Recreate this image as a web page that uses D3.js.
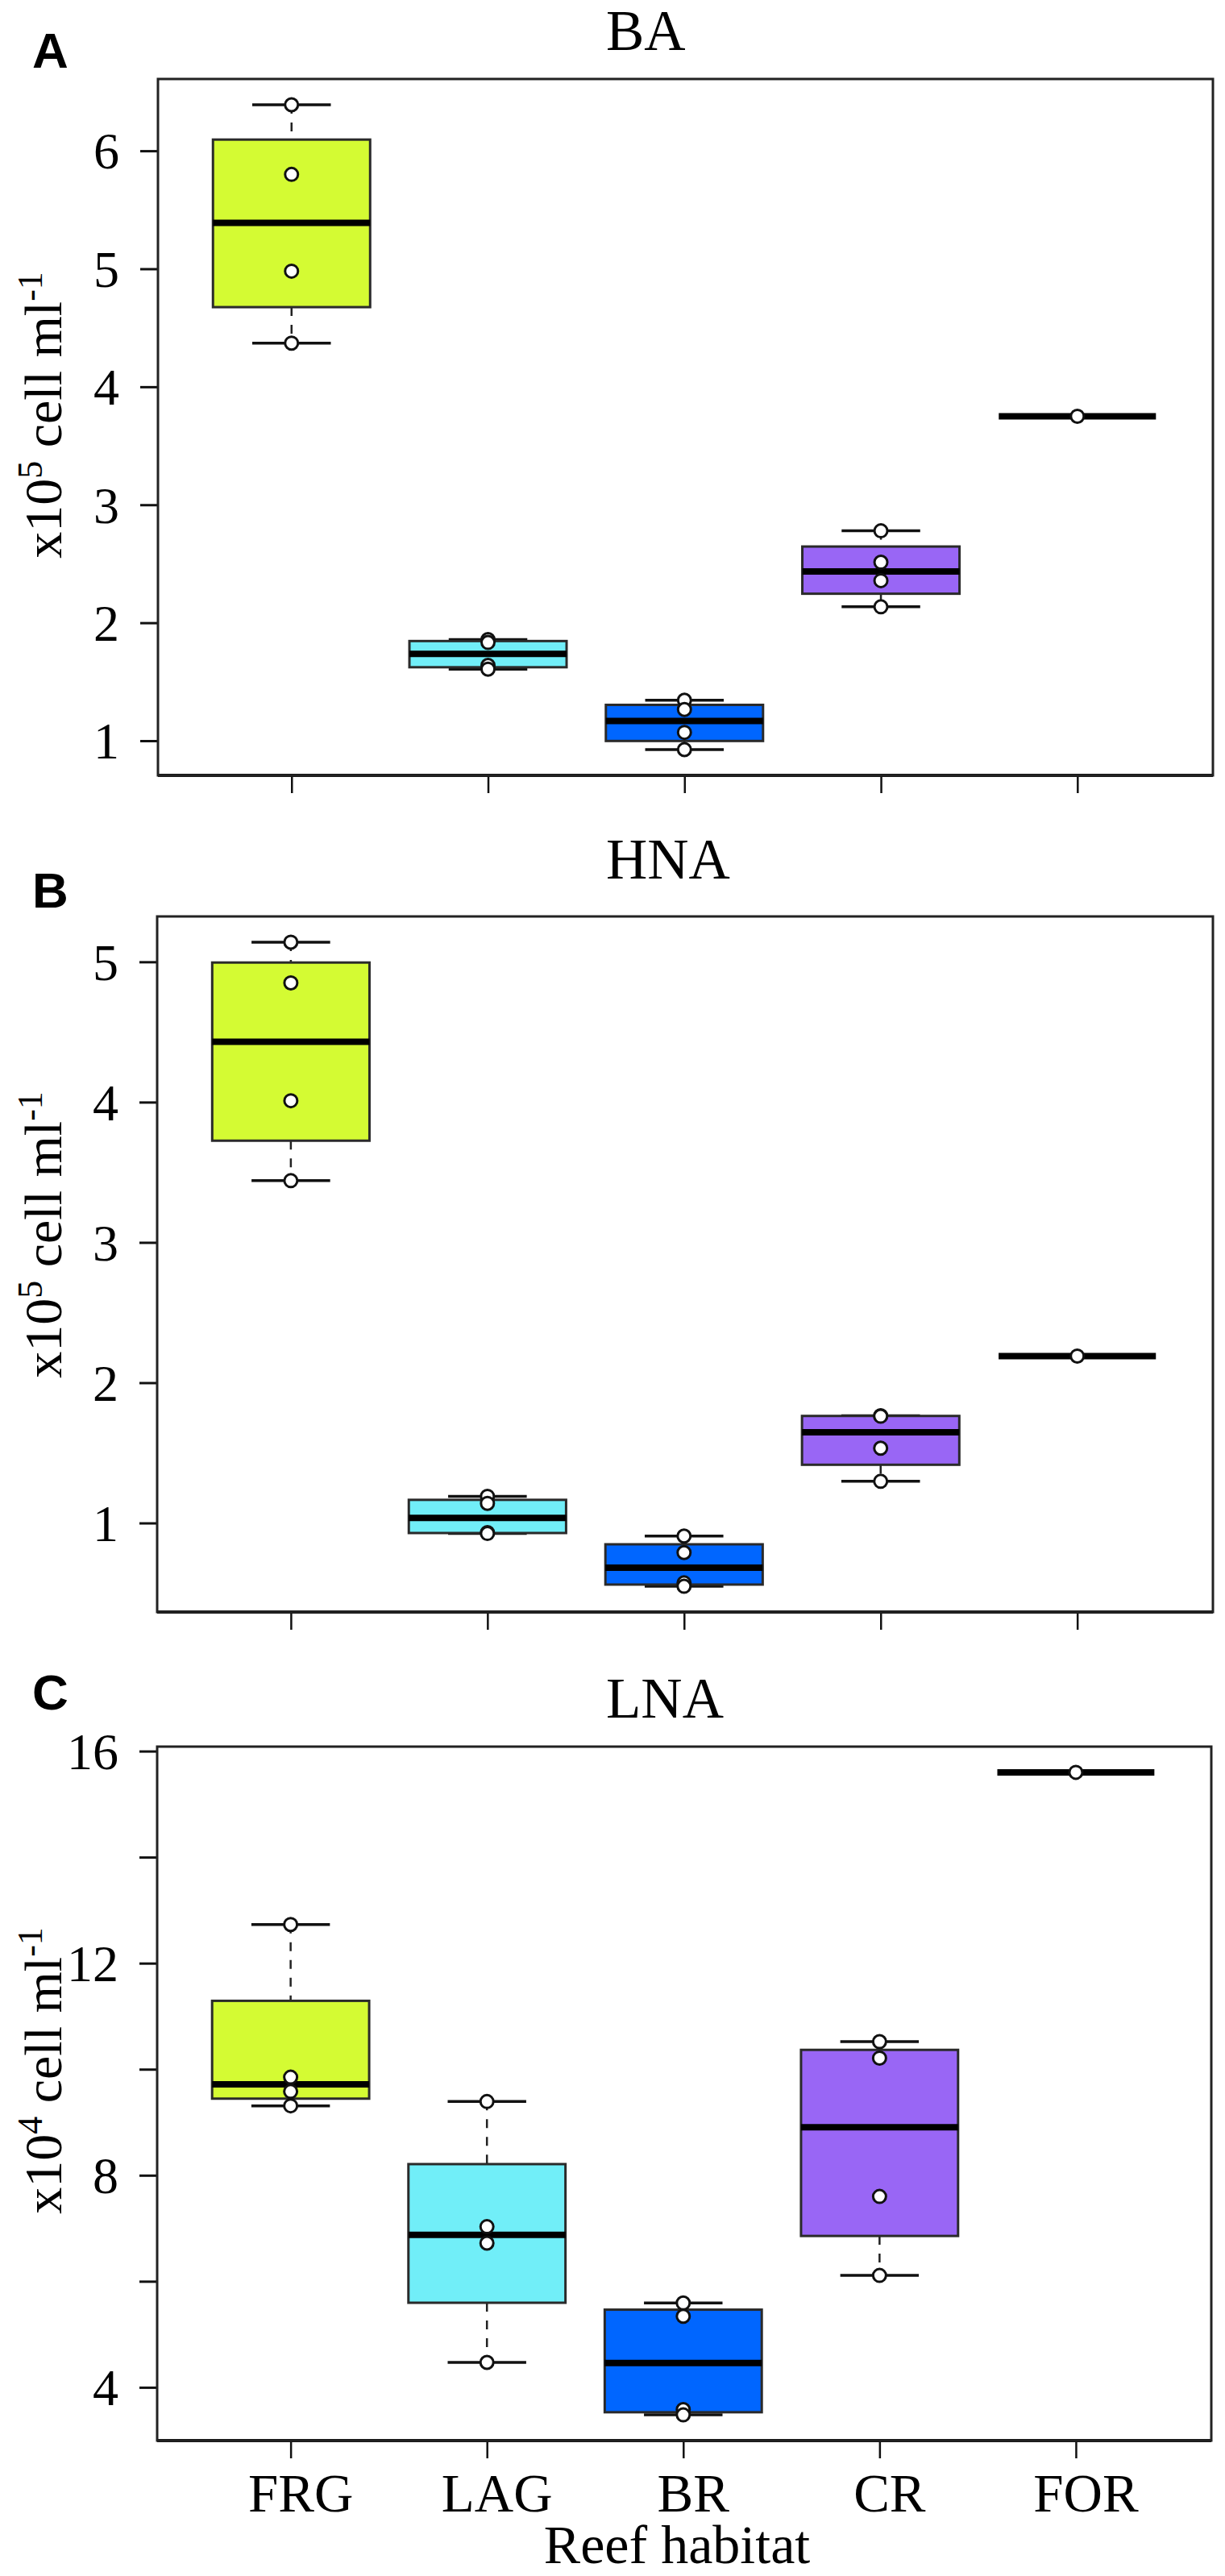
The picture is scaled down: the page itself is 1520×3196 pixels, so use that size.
<!DOCTYPE html>
<html>
<head>
<meta charset="utf-8">
<script src="https://cdn.jsdelivr.net/npm/d3@7"></script>
<style>
  html, body { margin: 0; padding: 0; background: #fff; }
  svg { display: block; }
</style>
</head>
<body>
<div id="chart"></div>
<script>
/* categories */
var habitats = ['FRG', 'LAG', 'BR', 'CR', 'FOR'];
var habitatColors = ['#d4fb33', '#71eef8', '#0066ff', '#9966f5', '#ffffff'];

/* raw sample values per habitat (x10^5 cell/ml for BA, HNA; x10^4 for LNA) */
var baValues = [
  [6.39, 5.80, 4.98, 4.37],
  [1.857, 1.833, 1.639, 1.607],
  [1.343, 1.265, 1.071, 0.925],
  [2.779, 2.513, 2.357, 2.135],
  [3.75]
];
var hnaValues = [
  [5.14, 4.85, 4.01, 3.44],
  [1.19, 1.14, 0.932, 0.925],
  [0.907, 0.789, 0.573, 0.549],
  [1.765, 1.761, 1.533, 1.297],
  [2.19]
];
var lnaValues = [
  [12.73, 9.85, 9.58, 9.31],
  [9.39, 7.03, 6.72, 4.47],
  [5.59, 5.34, 3.58, 3.48],
  [10.52, 10.21, 7.60, 6.11],
  [15.60]
];

/* axis ticks */
var baTicks = [1, 2, 3, 4, 5, 6];
var hnaTicks = [1, 2, 3, 4, 5];
var lnaTicks = [4, 6, 8, 10, 12, 14, 16];
var lnaTickLabels = [4, 8, 12, 16];

var panelTitles = ['BA', 'HNA', 'LNA'];
var panelLetters = ['A', 'B', 'C'];
var panelExponents = ['5', '5', '4'];
var xTitle = 'Reef habitat';

var SERIF = '"Liberation Serif", "DejaVu Serif", serif';
var SANS = '"Liberation Sans", Arial, sans-serif';

/* layout */
var W = 1520, H = 3196;
var layouts = [
  { top: 98,   bottom: 962,  left: 196, right: 1505, titleY: 62,   letterY: 84,   ylabY: 515 },
  { top: 1137, bottom: 2000, left: 195, right: 1505, titleY: 1090, letterY: 1126, ylabY: 1532 },
  { top: 2167, bottom: 3028, left: 195, right: 1503, titleY: 2131, letterY: 2121, ylabY: 2569 }
];

var svg = d3.select('#chart').append('svg')
  .attr('width', W).attr('height', H)
  .attr('viewBox', '0 0 ' + W + ' ' + H);
svg.append('rect').attr('width', W).attr('height', H).attr('fill', '#fff');

/* Tukey five-number summary, like R's fivenum() */
function fivenum(vals) {
  var x = vals.slice().sort(d3.ascending);
  var n = x.length;
  var n4 = Math.floor((n + 3) / 2) / 2;
  var d = [1, n4, (n + 1) / 2, n + 1 - n4, n];
  return d.map(function (k) {
    return 0.5 * (x[Math.floor(k) - 1] + x[Math.ceil(k) - 1]);
  });
}

function drawPanel(i, values, ticks, tickLabels) {
  var L = layouts[i];
  var g = svg.append('g');

  var all = d3.merge(values);
  var ext = d3.extent(all);
  var pad = (ext[1] - ext[0]) * 0.04;

  var y = d3.scaleLinear()
    .domain([ext[0] - pad, ext[1] + pad])
    .range([L.bottom, L.top]);

  /* box positions 1..5, plot limits */
  var x = d3.scaleLinear()
    .domain([0.32, 5.69])
    .range([L.left, L.right]);

  var halfW = x(1.4) - x(1);
  var capW = halfW / 2;

  /* y axis */
  var yAxis = d3.axisLeft(y)
    .tickValues(ticks)
    .tickSize(22)
    .tickPadding(26)
    .tickFormat(function (d) {
      return (!tickLabels || tickLabels.indexOf(d) >= 0) ? d : '';
    });
  var ya = g.append('g')
    .attr('transform', 'translate(' + L.left + ',0)')
    .call(yAxis);
  ya.select('.domain').remove();
  ya.selectAll('.tick line').attr('stroke', '#111').attr('stroke-width', 3);
  ya.selectAll('.tick text')
    .filter(function () { return this.textContent === ''; })
    .remove();
  ya.selectAll('.tick text')
    .attr('fill', '#000')
    .style('font-family', SERIF)
    .style('font-size', '64px')
    .attr('dy', '0.34em');

  /* x axis ticks */
  var xAxis = d3.axisBottom(x)
    .tickValues(d3.range(1, habitats.length + 1))
    .tickSize(22)
    .tickPadding(18)
    .tickFormat(function (d) { return habitats[d - 1]; });
  var xa = g.append('g')
    .attr('transform', 'translate(0,' + L.bottom + ')')
    .call(xAxis);
  xa.select('.domain').attr('stroke', '#111').attr('stroke-width', 4)
    .attr('d', 'M' + L.left + ',0H' + L.right);
  xa.selectAll('.tick line').attr('stroke', '#111').attr('stroke-width', 2.5);
  if (i === 2) {
    xa.selectAll('.tick text')
      .attr('fill', '#000')
      .style('font-family', SERIF)
      .style('font-size', '67px')
      .attr('dx', 12)
      .attr('dy', '0.72em');
  } else {
    xa.selectAll('.tick text').remove();
  }

  /* boxes */
  var stats = values.map(function (v, k) {
    var f = fivenum(v);
    return { k: k + 1, vals: v, min: f[0], q1: f[1], med: f[2], q3: f[3], max: f[4] };
  });

  var bg = g.selectAll('g.box')
    .data(stats)
    .join('g')
    .attr('class', 'box');

  /* dashed whiskers */
  bg.append('line')
    .attr('x1', function (d) { return x(d.k); })
    .attr('x2', function (d) { return x(d.k); })
    .attr('y1', function (d) { return y(d.max); })
    .attr('y2', function (d) { return y(d.q3); })
    .attr('stroke', '#222').attr('stroke-width', 2.5)
    .attr('stroke-dasharray', '11,11');
  bg.append('line')
    .attr('x1', function (d) { return x(d.k); })
    .attr('x2', function (d) { return x(d.k); })
    .attr('y1', function (d) { return y(d.q1); })
    .attr('y2', function (d) { return y(d.min); })
    .attr('stroke', '#222').attr('stroke-width', 2.5)
    .attr('stroke-dasharray', '11,11');

  /* whisker caps */
  ['max', 'min'].forEach(function (key) {
    bg.append('line')
      .attr('x1', function (d) { return x(d.k) - capW; })
      .attr('x2', function (d) { return x(d.k) + capW; })
      .attr('y1', function (d) { return y(d[key]); })
      .attr('y2', function (d) { return y(d[key]); })
      .attr('stroke', '#111').attr('stroke-width', 3.5);
  });

  /* box body */
  bg.append('rect')
    .attr('x', function (d) { return x(d.k) - halfW; })
    .attr('width', 2 * halfW)
    .attr('y', function (d) { return y(d.q3); })
    .attr('height', function (d) { return y(d.q1) - y(d.q3); })
    .attr('fill', function (d) { return habitatColors[d.k - 1]; })
    .attr('stroke', '#2a2a2a').attr('stroke-width', 3);

  /* median */
  bg.append('line')
    .attr('x1', function (d) { return x(d.k) - halfW; })
    .attr('x2', function (d) { return x(d.k) + halfW; })
    .attr('y1', function (d) { return y(d.med); })
    .attr('y2', function (d) { return y(d.med); })
    .attr('stroke', '#000').attr('stroke-width', 8);

  /* raw points */
  bg.selectAll('circle')
    .data(function (d) { return d.vals.map(function (v) { return { k: d.k, v: v }; }); })
    .join('circle')
    .attr('cx', function (d) { return x(d.k); })
    .attr('cy', function (d) { return y(d.v); })
    .attr('r', 8)
    .attr('fill', '#fff')
    .attr('stroke', '#111')
    .attr('stroke-width', 3);

  /* frame */
  g.append('rect')
    .attr('x', L.left).attr('y', L.top)
    .attr('width', L.right - L.left).attr('height', L.bottom - L.top)
    .attr('fill', 'none').attr('stroke', '#222').attr('stroke-width', 3);

  /* title */
  g.append('text')
    .attr('x', 752).attr('y', L.titleY)
    .attr('fill', '#000')
    .style('font-family', SERIF)
    .style('font-size', '71px')
    .text(panelTitles[i]);

  /* panel letter */
  g.append('text')
    .attr('x', 40).attr('y', L.letterY)
    .attr('fill', '#000')
    .style('font-family', SANS)
    .style('font-weight', 'bold')
    .style('font-size', '62px')
    .text(panelLetters[i]);

  /* y axis title */
  var yt = g.append('text')
    .attr('text-anchor', 'middle')
    .attr('fill', '#000')
    .attr('transform', 'translate(76,' + L.ylabY + ') rotate(-90)')
    .style('font-family', SERIF)
    .style('font-size', '66px');
  yt.append('tspan').text('x10');
  yt.append('tspan').attr('dy', -24).style('font-size', '44px').text(panelExponents[i]);
  yt.append('tspan').attr('dy', 24).text(' cell ml');
  yt.append('tspan').attr('dy', -24).style('font-size', '44px').text('-1');
}

drawPanel(0, baValues, baTicks, null);
drawPanel(1, hnaValues, hnaTicks, null);
drawPanel(2, lnaValues, lnaTicks, lnaTickLabels);

/* x axis title */
svg.append('text')
  .attr('text-anchor', 'middle')
  .attr('x', 840).attr('y', 3180)
  .attr('fill', '#000')
  .style('font-family', SERIF)
  .style('font-size', '68px')
  .text(xTitle);
</script>
</body>
</html>
